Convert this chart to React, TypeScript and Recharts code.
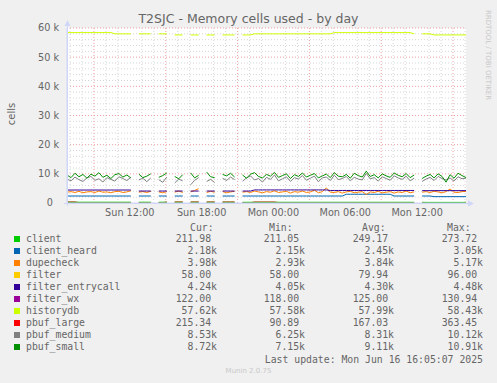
import { LineChart, Line, XAxis, YAxis, CartesianGrid } from 'recharts';

// time axis: hours since Sun 00:00, one sample every 20 minutes
const START = 6.75;
const END = 40.0833;
const STEP = 1 / 3;

const xTicks = [12, 18, 24, 30, 36];
const xTickLabels = ['Sun 12:00', 'Sun 18:00', 'Mon 00:00', 'Mon 06:00', 'Mon 12:00'];
const yTicks = [0, 10, 20, 30, 40, 50, 60];
const hourLines = [7, 8, 10, 11, 13, 14, 16, 17, 19, 20, 22, 23, 25, 26, 28, 29, 31, 32, 34, 35, 37, 38, 40];
const threeHourLines = [9, 12, 15, 18, 21, 24, 27, 30, 33, 36, 39];
const minorY = [2, 4, 6, 8, 12, 14, 16, 18, 22, 24, 26, 28, 32, 34, 36, 38, 42, 44, 46, 48, 52, 54, 56, 58];
const majorY = [10, 20, 30, 40, 50, 60];

// values in thousands
const client = [
  0.27, 0.27, 0.27, 0.27, 0.27, 0.27, 0.27, 0.27, 0.27, 0.27,
  0.27, 0.27, 0.27, 0.27, 0.27, 0.27, 0.27, null, 0.27, 0.27,
  0.27, 0.27, null, 0.27, 0.27, 0.27, null, 0.27, 0.27, 0.27,
  null, 0.27, 0.27, 0.27, null, 0.27, 0.27, 0.27, null, 0.27,
  0.27, 0.27, 0.27, null, 0.25, 0.25, 0.25, 0.25, 0.25, 0.25,
  0.25, 0.25, 0.25, 0.25, 0.25, 0.25, 0.25, 0.25, 0.25, 0.25,
  0.25, 0.25, 0.25, 0.25, 0.25, 0.25, 0.25, 0.25, 0.25, 0.25,
  0.25, 0.25, 0.25, 0.25, 0.25, 0.25, 0.25, 0.25, 0.25, 0.25,
  0.25, 0.25, 0.25, 0.25, 0.25, 0.25, 0.25, 0.25, null, 0.25,
  0.21, 0.21, 0.21, 0.21, 0.21, 0.21, 0.21, 0.21, 0.21, 0.21,
  0.212,
];
const clientHeard = [
  2.4, 2.4, 2.4, 2.4, 2.4, 2.4, 2.4, 2.4, 2.4, 2.4,
  2.4, 2.4, 2.4, 2.4, 2.4, 2.4, 2.4, null, 2.4, 2.4,
  2.4, 2.4, null, 2.4, 2.4, 2.4, null, 2.4, 2.4, 2.4,
  null, 2.4, 2.4, 2.4, null, 2.4, 2.4, 2.4, null, 2.4,
  2.4, 2.4, 2.4, null, 2.4, 2.4, 2.4, 2.4, 2.4, 2.4,
  2.4, 2.4, 2.4, 2.4, 2.4, 2.4, 2.4, 2.4, 2.4, 2.4,
  2.4, 2.4, 2.4, 2.4, 2.4, 2.4, 2.4, 2.4, 2.4, 2.4,
  3.0, 3.0, 3.0, 3.0, 3.0, 3.0, 3.0, 3.0, 3.0, 3.0,
  3.0, 3.0, 2.4, 2.4, 2.4, 2.4, 2.4, 2.4, null, 2.4,
  2.4, 2.4, 2.18, 2.18, 2.18, 2.18, 2.18, 2.18, 2.18, 2.18,
  2.18,
];
const dupecheck = [
  3.7, 3.9, 3.6, 4.0, 3.5, 3.8, 3.9, 3.6, 4.1, 3.7,
  3.8, 3.5, 3.9, 4.0, 3.6, 3.8, 4.2, null, 3.7, 3.9,
  3.6, 4.0, null, 3.8, 3.5, 3.9, null, 3.7, 4.1, 3.6,
  null, 3.8, 4.3, 4.9, null, 3.6, 4.0, 3.7, null, 3.9,
  3.5, 3.8, 4.0, null, 3.7, 3.9, 3.6, 4.1, 3.8, 3.5,
  3.9, 3.7, 4.2, 3.6, 3.8, 4.0, 3.4, 3.9, 3.7, 4.1,
  3.6, 3.8, 4.4, 3.5, 3.9, 5.17, 3.7, 3.6, 3.9, 3.4,
  3.8, 4.0, 3.5, 3.7, 3.9, 2.93, 3.8, 3.6, 4.0, 3.5,
  3.7, 3.9, 3.4, 3.8, 3.6, 4.1, 3.5, 3.8, null, 3.7,
  3.9, 3.6, 4.0, 3.8, 3.5, 3.9, 4.8, 3.7, 3.6, 3.9,
  3.98,
];
const filter = [
  0.096, 0.096, 0.096, 0.096, 0.096, 0.096, 0.096, 0.096, 0.096, 0.096,
  0.096, 0.096, 0.096, 0.096, 0.096, 0.096, 0.096, null, 0.096, 0.096,
  0.096, 0.096, null, 0.096, 0.096, 0.096, null, 0.096, 0.096, 0.096,
  null, 0.08, 0.08, 0.08, null, 0.08, 0.08, 0.08, null, 0.08,
  0.08, 0.08, 0.08, null, 0.08, 0.08, 0.08, 0.08, 0.08, 0.08,
  0.08, 0.08, 0.08, 0.08, 0.08, 0.08, 0.08, 0.08, 0.08, 0.08,
  0.08, 0.08, 0.08, 0.08, 0.08, 0.08, 0.08, 0.08, 0.08, 0.08,
  0.058, 0.058, 0.058, 0.058, 0.058, 0.058, 0.058, 0.058, 0.058, 0.058,
  0.058, 0.058, 0.058, 0.058, 0.058, 0.058, 0.058, 0.058, null, 0.058,
  0.058, 0.058, 0.058, 0.058, 0.058, 0.058, 0.058, 0.058, 0.058, 0.058,
  0.058,
];
const filterEntrycall = [
  4.45, 4.45, 4.45, 4.45, 4.45, 4.45, 4.45, 4.45, 4.45, 4.45,
  4.45, 4.45, 4.45, 4.45, 4.45, 4.45, 4.45, null, 4.1, 4.1,
  4.1, 4.1, null, 4.1, 4.1, 4.1, null, 4.1, 4.1, 4.1,
  null, 4.1, 4.1, 4.1, null, 4.1, 4.1, 4.1, null, 4.1,
  4.1, 4.1, 4.1, null, 4.1, 4.1, 4.1, 4.48, 4.48, 4.48,
  4.48, 4.48, 4.48, 4.48, 4.48, 4.48, 4.48, 4.48, 4.48, 4.48,
  4.48, 4.48, 4.48, 4.48, 4.48, 4.48, 4.3, 4.3, 4.3, 4.3,
  4.3, 4.3, 4.3, 4.3, 4.3, 4.3, 4.3, 4.3, 4.3, 4.3,
  4.3, 4.3, 4.3, 4.3, 4.3, 4.3, 4.3, 4.3, null, 4.24,
  4.24, 4.24, 4.24, 4.24, 4.24, 4.24, 4.24, 4.24, 4.24, 4.24,
  4.24,
];
const filterWx = [
  0.131, 0.131, 0.131, 0.131, 0.131, 0.131, 0.131, 0.131, 0.131, 0.131,
  0.131, 0.131, 0.131, 0.131, 0.131, 0.131, 0.131, null, 0.125, 0.125,
  0.125, 0.125, null, 0.125, 0.125, 0.125, null, 0.125, 0.125, 0.125,
  null, 0.125, 0.125, 0.125, null, 0.125, 0.125, 0.125, null, 0.125,
  0.125, 0.125, 0.125, null, 0.125, 0.125, 0.125, 0.125, 0.125, 0.125,
  0.125, 0.125, 0.125, 0.125, 0.125, 0.125, 0.125, 0.125, 0.125, 0.125,
  0.125, 0.125, 0.125, 0.125, 0.125, 0.125, 0.125, 0.125, 0.125, 0.125,
  0.125, 0.125, 0.125, 0.125, 0.125, 0.125, 0.125, 0.125, 0.125, 0.125,
  0.125, 0.125, 0.125, 0.125, 0.125, 0.125, 0.125, 0.125, null, 0.122,
  0.122, 0.122, 0.122, 0.122, 0.122, 0.122, 0.122, 0.122, 0.122, 0.122,
  0.122,
];
const historydb = [
  58.43, 58.43, 58.43, 58.43, 58.43, 58.43, 58.43, 58.43, 58.43, 58.43,
  58.43, 58.43, 58.0, 58.0, 58.0, 58.0, 58.0, null, 58.0, 58.0,
  58.0, 58.0, null, 58.0, 58.0, 58.0, null, 57.62, 57.62, 57.62,
  null, 57.62, 57.62, 57.62, null, 57.62, 57.62, 57.62, null, 57.62,
  57.62, 57.62, 57.62, null, 57.62, 57.62, 57.62, 58.0, 58.0, 58.0,
  58.0, 58.0, 58.0, 58.0, 58.0, 58.0, 58.0, 58.0, 58.0, 58.0,
  58.0, 58.0, 58.0, 58.0, 58.0, 58.0, 58.0, 58.43, 58.43, 58.43,
  58.43, 58.43, 58.43, 58.43, 58.43, 58.43, 58.43, 58.43, 58.43, 58.43,
  58.43, 58.43, 58.43, 58.43, 58.43, 58.43, 58.43, 58.0, null, 58.0,
  58.0, 58.0, 57.62, 57.62, 57.62, 57.62, 57.62, 57.62, 57.62, 57.62,
  57.62,
];
const pbufLarge = [
  0.36, 0.36, 0.36, 0.12, 0.12, 0.12, 0.12, 0.12, 0.12, 0.12,
  0.12, 0.12, 0.12, 0.12, 0.12, 0.12, 0.12, null, 0.12, 0.12,
  0.12, 0.12, null, 0.12, 0.12, 0.36, null, 0.36, 0.36, 0.36,
  null, 0.36, 0.36, 0.36, null, 0.36, 0.36, 0.36, null, 0.36,
  0.36, 0.36, 0.36, null, 0.12, 0.12, 0.12, 0.34, 0.34, 0.34,
  0.34, 0.34, 0.34, 0.14, 0.14, 0.14, 0.14, 0.14, 0.14, 0.14,
  0.14, 0.14, 0.14, 0.14, 0.14, 0.14, 0.14, 0.14, 0.14, 0.14,
  0.14, 0.14, 0.14, 0.14, 0.14, 0.14, 0.14, 0.14, 0.14, 0.14,
  0.14, 0.14, 0.14, 0.14, 0.14, 0.14, 0.14, 0.14, null, 0.14,
  0.14, 0.14, 0.14, 0.14, 0.14, 0.14, 0.14, 0.14, 0.14, 0.14,
  0.215,
];
const pbufMedium = [
  8.2, 7.6, 8.9, 8.0, 7.4, 8.6, 9.1, 7.8, 8.3, 7.2,
  8.7, 8.1, 7.5, 9.0, 8.4, 7.7, 8.8, null, 7.9, 8.5,
  7.3, 8.6, null, 8.0, 7.1, 8.9, null, 6.9, 8.2, 7.6,
  null, 6.25, 7.8, 8.7, null, 7.4, 8.1, 7.0, null, 8.5,
  7.7, 8.9, 8.0, null, 7.5, 8.6, 9.3, 7.9, 8.4, 7.2,
  8.8, 8.1, 9.6, 7.6, 8.3, 9.0, 7.4, 8.7, 8.2, 9.4,
  7.8, 8.5, 9.2, 7.3, 8.6, 8.9, 7.7, 9.5, 8.0, 8.4,
  9.1, 7.6, 8.8, 8.2, 7.9, 10.12, 8.3, 8.7, 7.5, 9.0,
  8.4, 7.8, 9.3, 8.6, 8.1, 9.2, 7.6, 8.5, null, 7.4,
  8.2, 8.8, 7.7, 9.1, 8.4, 7.9, 8.6, 7.5, 9.0, 8.3,
  8.53,
];
const pbufSmall = [
  9.6, 8.7, 10.2, 9.0, 9.8, 8.5, 9.9, 9.2, 10.4, 8.8,
  9.5, 8.4, 9.7, 10.1, 8.9, 9.6, 8.6, null, 9.9, 8.7,
  9.2, 10.0, null, 8.8, 9.4, 10.3, null, 9.1, 8.3, 9.7,
  null, 10.3, 8.6, 9.5, null, 10.6, 9.0, 8.7, null, 9.8,
  9.3, 10.2, 8.9, null, 9.6, 8.5, 9.9, 10.4, 9.1, 8.6,
  9.8, 9.2, 10.5, 8.8, 9.4, 10.0, 8.4, 9.7, 9.1, 10.3,
  8.9, 9.5, 10.1, 8.6, 9.3, 9.9, 8.7, 10.4, 9.2, 9.0,
  9.8, 8.5, 10.2, 9.4, 8.9, 10.91, 9.1, 9.7, 8.6, 10.0,
  9.3, 8.8, 10.3, 9.5, 9.0, 10.1, 8.7, 9.6, null, 8.4,
  9.2, 9.8, 8.6, 10.0, 9.1, 7.15, 9.7, 8.5, 10.2, 9.4,
  8.72,
];

const legendNames = ['client', 'client_heard', 'dupecheck', 'filter', 'filter_entrycall', 'filter_wx', 'historydb', 'pbuf_large', 'pbuf_medium', 'pbuf_small'];
const legendColors = ['#00CC00', '#0066B3', '#FF8000', '#FFCC00', '#330099', '#990099', '#CCFF00', '#FF0000', '#808080', '#008F00'];
const legendCur = ['211.98 ', '2.18k', '3.98k', '58.00 ', '4.24k', '122.00 ', '57.62k', '215.34 ', '8.53k', '8.72k'];
const legendMin = ['211.05 ', '2.15k', '2.93k', '58.00 ', '4.05k', '118.00 ', '57.58k', '90.89 ', '6.25k', '7.15k'];
const legendAvg = ['249.17 ', '2.45k', '3.84k', '79.94 ', '4.30k', '125.00 ', '57.99k', '167.03 ', '8.31k', '9.11k'];
const legendMax = ['273.72 ', '3.05k', '5.17k', '96.00 ', '4.48k', '130.94 ', '58.43k', '363.45 ', '10.12k', '10.91k'];

const rows = pbufSmall.map((_, i) => ({
  t: START + i * STEP,
  client: client[i],
  clientHeard: clientHeard[i],
  dupecheck: dupecheck[i],
  filter: filter[i],
  filterEntrycall: filterEntrycall[i],
  filterWx: filterWx[i],
  historydb: historydb[i],
  pbufLarge: pbufLarge[i],
  pbufMedium: pbufMedium[i],
  pbufSmall: pbufSmall[i],
}));

// drawing order (small values first so client stays visible on the baseline)
const drawOrder: [string, string][] = [
  ['filter', '#FFCC00'],
  ['filterWx', '#990099'],
  ['pbufLarge', '#FF0000'],
  ['client', '#00CC00'],
  ['clientHeard', '#0066B3'],
  ['dupecheck', '#FF8000'],
  ['filterEntrycall', '#330099'],
  ['historydb', '#CCFF00'],
  ['pbufMedium', '#808080'],
  ['pbufSmall', '#008F00'],
];

const FONT = '#666666';
const MONO = '"DejaVu Sans Mono", monospace';

export default function App() {
  const colRight = [280, 192, 103, 14]; // distance from right edge of the 497px image
  const cols = [legendCur, legendMin, legendAvg, legendMax];
  return (
    <div style={{ position: 'fixed', left: 0, top: 0, width: 497, height: 383, background: '#f0f0f0', fontFamily: '"DejaVu Sans", sans-serif', overflow: 'hidden' }}>
      <div style={{ position: 'absolute', left: 0, top: 11, width: 497, textAlign: 'center', fontSize: 12.5, lineHeight: '15px', color: FONT }}>
        T2SJC - Memory cells used - by day
      </div>
      <div style={{ position: 'absolute', left: 11, top: 114, transform: 'translate(-50%, -50%) rotate(-90deg)', fontSize: 10, color: FONT, whiteSpace: 'nowrap' }}>
        cells
      </div>
      <div style={{ position: 'absolute', left: 488, top: 55, transform: 'translate(-50%, -50%) rotate(90deg)', fontSize: 7, color: '#c8c8c8', whiteSpace: 'nowrap' }}>
        RRDTOOL / TOBI OETIKER
      </div>

      <LineChart width={497} height={383} data={rows} margin={{ top: 28, right: 31, left: 0, bottom: 0 }} style={{ position: 'absolute', left: 0, top: 0 }}>
        <CartesianGrid fill="#ffffff" stroke="#d6d6d6" strokeDasharray="1 2" verticalValues={hourLines} horizontalValues={minorY} />
        <CartesianGrid stroke="#f0a0a0" strokeDasharray="1 2" verticalValues={threeHourLines} horizontalValues={majorY} />
        <XAxis
          dataKey="t"
          type="number"
          domain={[START, END]}
          allowDataOverflow
          ticks={xTicks}
          tickFormatter={(v: number) => xTickLabels[xTicks.indexOf(v)]}
          axisLine={{ stroke: '#CFD6F8' }}
          tickLine={false}
          tickSize={4}
          tickMargin={2}
          height={180}
          tick={{ fill: FONT, fontSize: 9.7, fontFamily: '"DejaVu Sans"' }}
        />
        <YAxis
          type="number"
          domain={[0, 60]}
          ticks={yTicks}
          interval={0}
          tickFormatter={(v: number) => (v === 0 ? '0\u00a0\u00a0' : `${v} k`)}
          axisLine={{ stroke: '#CFD6F8' }}
          tickLine={false}
          width={67}
          tick={{ fill: FONT, fontSize: 9.7, fontFamily: '"DejaVu Sans"' }}
        />
        {drawOrder.map(([key, color]) => (
          <Line key={key} dataKey={key} stroke={color} strokeWidth={1} dot={false} type="linear" isAnimationActive={false} />
        ))}
      </LineChart>

      <svg width={497} height={383} style={{ position: 'absolute', left: 0, top: 0, pointerEvents: 'none' }}>
        <line x1={67.5} y1={22} x2={67.5} y2={206} stroke="#CFD6F8" />
        <polygon points="64.5,26 70.5,26 67.5,20" fill="#CFD6F8" />
        <line x1={64} y1={203.5} x2={470} y2={203.5} stroke="#CFD6F8" />
        <polygon points="468,200.5 468,206.5 474,203.5" fill="#CFD6F8" />
      </svg>

      <div style={{ position: 'absolute', left: 0, top: 0, width: 497, height: 383, fontFamily: MONO, fontSize: 9.8, color: FONT, whiteSpace: 'pre', lineHeight: '12px' }}>
        <span style={{ position: 'absolute', left: 190, top: 222 }}>Cur:</span>
        <span style={{ position: 'absolute', left: 269, top: 222 }}>Min:</span>
        <span style={{ position: 'absolute', left: 362, top: 222 }}>Avg:</span>
        <span style={{ position: 'absolute', left: 447, top: 222 }}>Max:</span>
        {legendNames.map((name, i) => {
          const top = 233 + i * 12;
          return (
            <div key={name}>
              <span style={{ position: 'absolute', left: 14, top: top + 3, width: 6, height: 6, background: legendColors[i] }} />
              <span style={{ position: 'absolute', left: 26, top }}>{name}</span>
              {cols.map((col, c) => (
                <span key={c} style={{ position: 'absolute', right: colRight[c], top }}>{col[i]}</span>
              ))}
            </div>
          );
        })}
        <span style={{ position: 'absolute', right: 14, top: 354 }}>Last update: Mon Jun 16 16:05:07 2025</span>
      </div>
      <div style={{ position: 'absolute', left: 0, top: 367, width: 497, textAlign: 'center', fontSize: 7, color: '#c8c8c8' }}>
        Munin 2.0.75
      </div>
    </div>
  );
}
